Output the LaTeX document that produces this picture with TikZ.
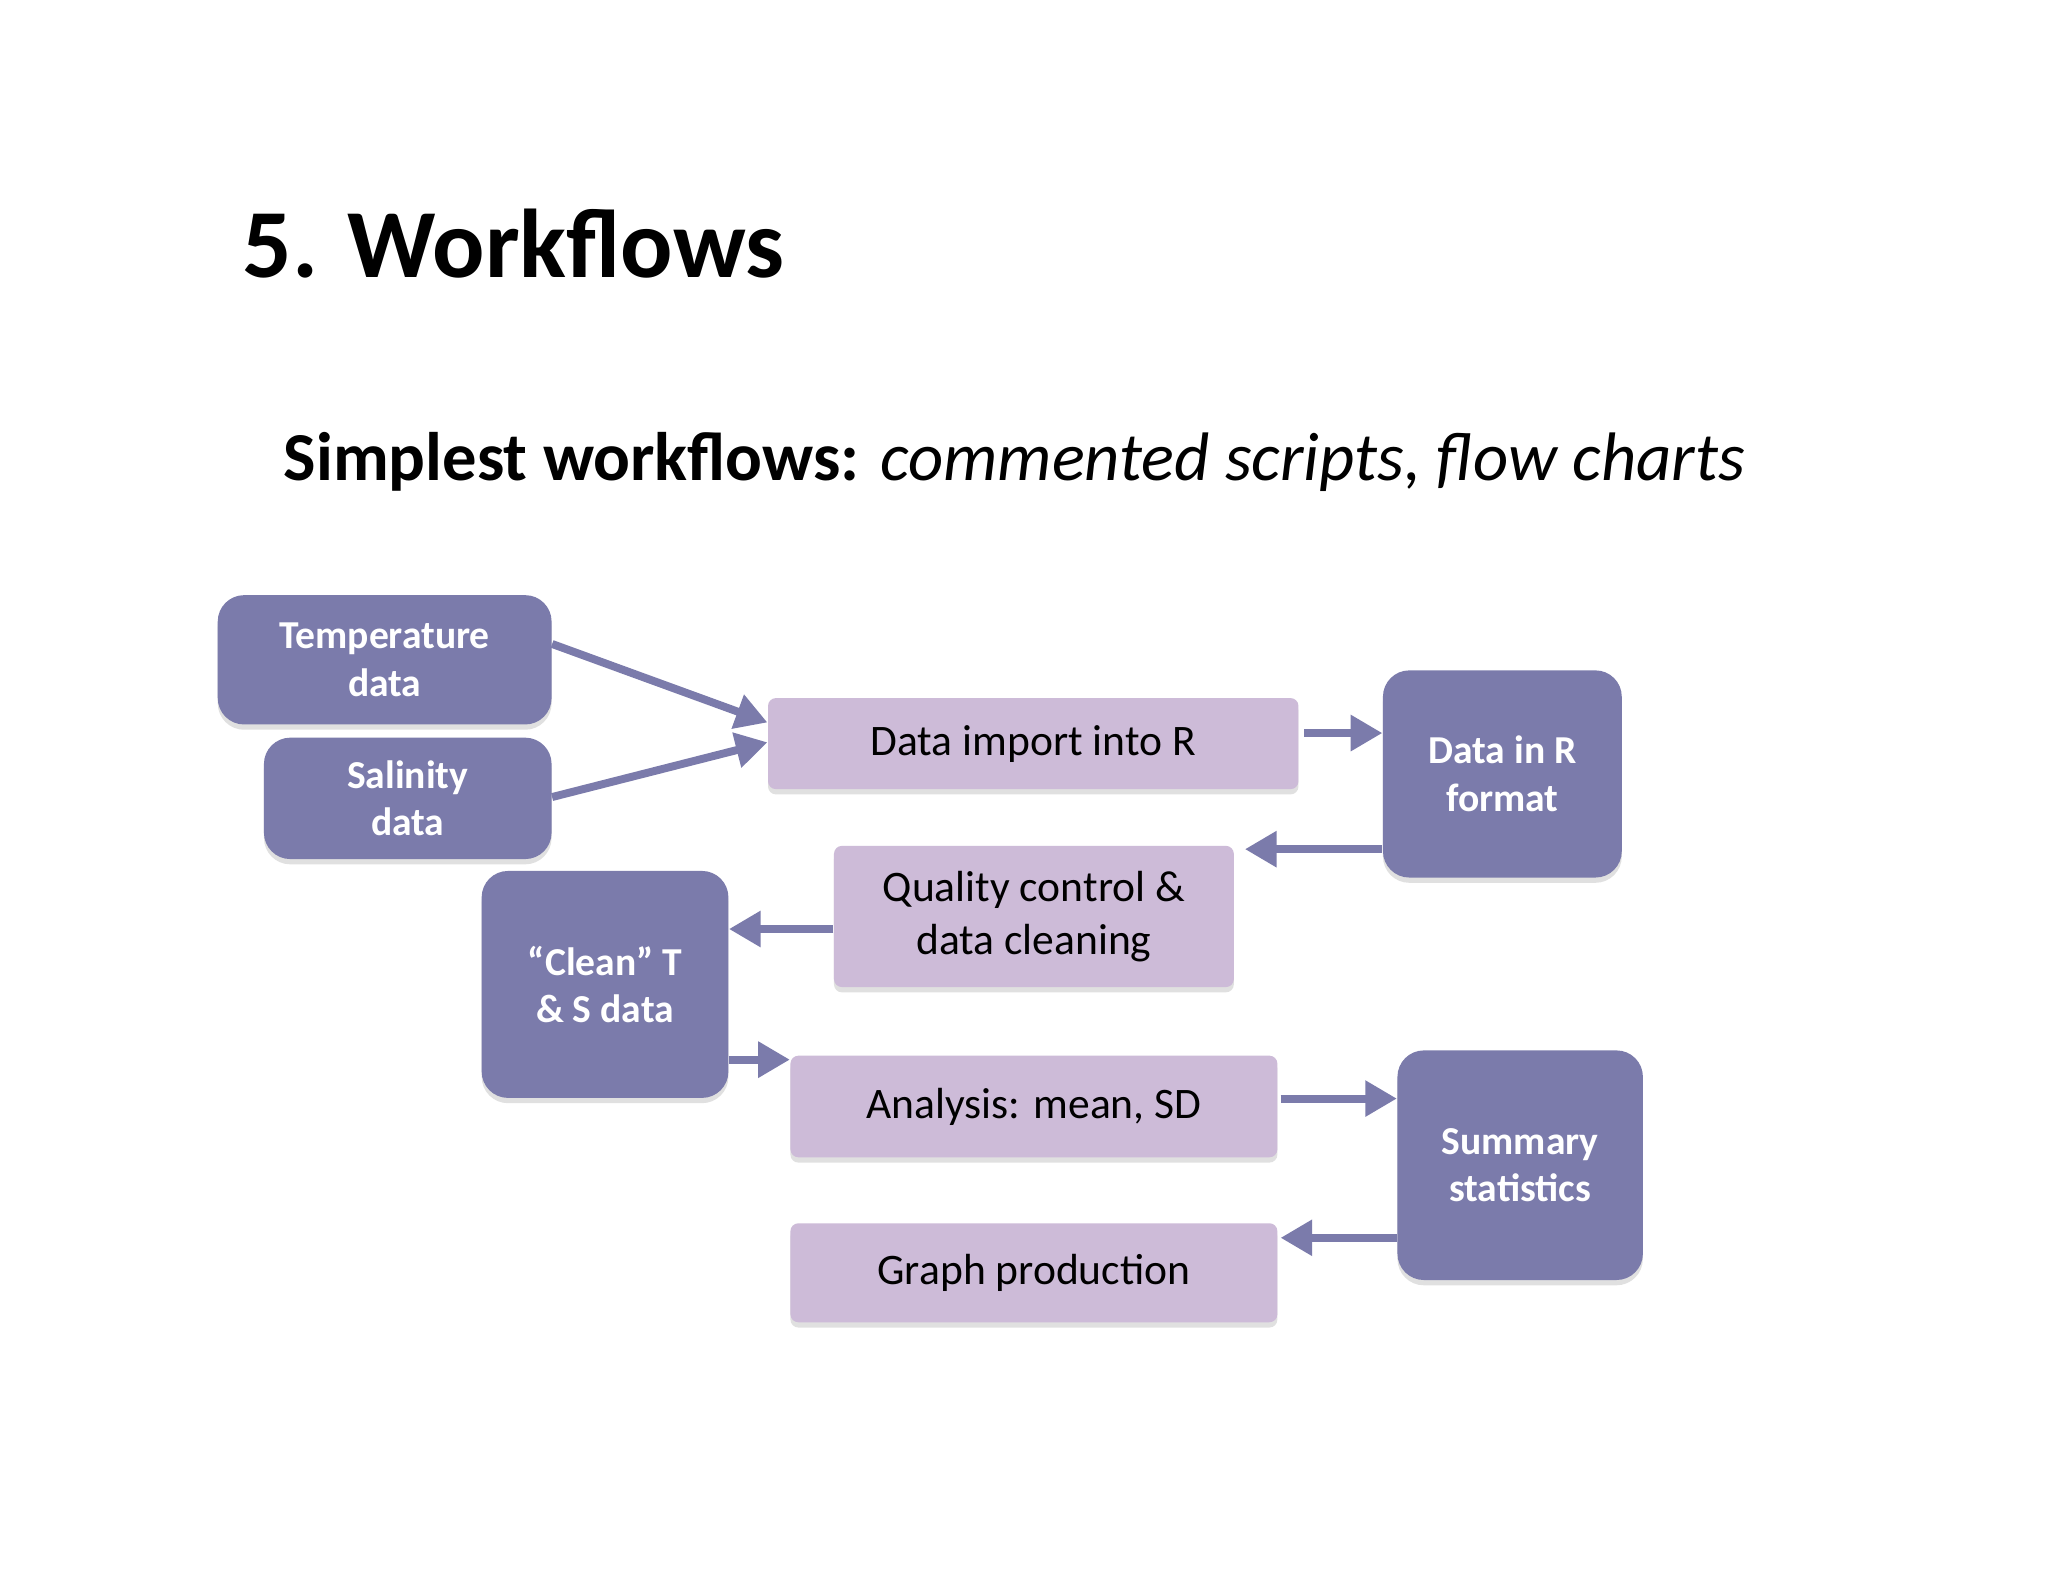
\documentclass[tikz,border=0pt]{standalone}
\usepackage{fontspec}
\setmainfont{Carlito}
\usetikzlibrary{arrows.meta,shadows}
\definecolor{dk}{HTML}{7B7BAB}
\definecolor{lt}{HTML}{CDBBD8}
\begin{document}
\begin{tikzpicture}[x=0.5pt,y=-0.5pt,
 dark/.style={fill=dk,draw=none,rounded corners=10pt,text=white,font=\fontsize{15}{18}\selectfont\bfseries,align=center,inner sep=0pt,drop shadow={shadow xshift=0pt,shadow yshift=-2pt,fill=gray!40,opacity=0.6}},
 light/.style={fill=lt,draw=none,rounded corners=3pt,text=black,font=\fontsize{16.5}{20}\selectfont,align=center,inner sep=0pt,drop shadow={shadow xshift=0pt,shadow yshift=-2pt,fill=gray!40,opacity=0.6}},
 arr/.style={draw=dk,line width=3pt,-{Triangle[length=12pt,width=13pt]}}]
\useasboundingbox[fill=white] (0,0) rectangle (1552,1200);
\node[anchor=base west,font=\fontsize{37}{44}\selectfont\bfseries] (t) at (177,210) {5. Workflows};
\node[anchor=base west,font=\fontsize{26}{30}\selectfont] (s) at (208,364) {\textbf{Simplest workflows:} \textit{commented scripts, flow charts}};
\node[dark,minimum width=126.5pt,minimum height=49pt] (temp) at (291.5,500) {Temperature\\data};
\node[dark,minimum width=109pt,minimum height=46pt] (sal) at (309,605) {Salinity\\data};
\node[light,minimum width=201pt,minimum height=34.5pt] (imp) at (783,563.5) {Data import into R};
\node[dark,minimum width=90.5pt,minimum height=78.5pt] (rf) at (1138.5,586.5) {Data in R\\format};
\node[light,minimum width=151.5pt,minimum height=53.5pt] (qc) at (783.5,694.5) {Quality control \&\\data cleaning};
\node[dark,minimum width=93.5pt,minimum height=86pt] (cl) at (458.5,746) {“Clean” T\\\& S data};
\node[light,minimum width=184.5pt,minimum height=38.5pt] (an) at (783.5,838.5) {Analysis: mean, SD};
\node[dark,minimum width=93pt,minimum height=87pt] (su) at (1152,883) {Summary\\statistics};
\node[light,minimum width=184.5pt,minimum height=37.5pt] (gr) at (783.5,964.5) {Graph production};
\draw[arr] ([yshift=6pt]temp.east) -- ([yshift=8pt]imp.west);
\draw[arr] ([yshift=0.5pt]sal.east) -- ([yshift=0.5pt]imp.west);
\draw[arr] ([yshift=4pt,xshift=2pt]imp.east) -- ([yshift=15.5pt]rf.west);
\draw[arr] ([yshift=-28.5pt]rf.west) -- ([xshift=4pt,yshift=-28.5pt]rf.west -| qc.east);
\draw[arr] ([yshift=-4.75pt]qc.west) -- ([yshift=-4.75pt]qc.west -| cl.east);
\draw[arr] ([yshift=-28.5pt]cl.east) -- ([yshift=-28.5pt]cl.east -| an.west);
\draw[arr] ([xshift=1pt,yshift=3pt]an.east) -- ([yshift=3pt]an.east -| su.west);
\draw[arr] ([yshift=-27.5pt]su.west) -- ([xshift=1pt,yshift=-27.5pt]su.west -| gr.east);
\end{tikzpicture}
\end{document}
